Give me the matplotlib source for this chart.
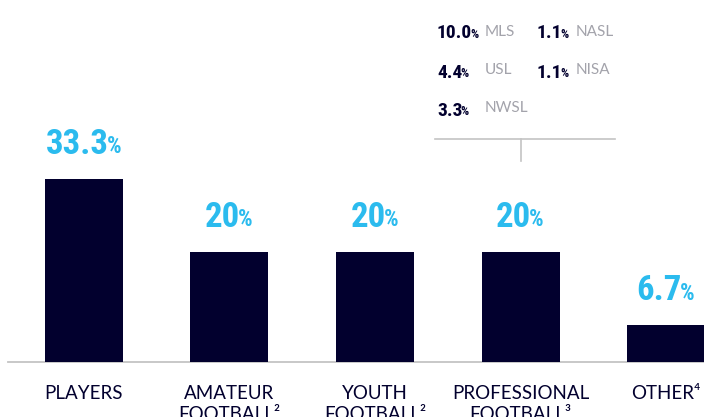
import matplotlib
matplotlib.use("Agg")
import matplotlib.pyplot as plt
from matplotlib import font_manager

# Share of respondents by sector
categories = ["PLAYERS", "AMATEUR\nFOOTBALL²", "YOUTH\nFOOTBALL²",
              "PROFESSIONAL\nFOOTBALL³", "OTHER⁴"]
shares = [33.3, 20, 20, 20, 6.7]

# Breakdown of the professional sector by league (column-major order)
leagues = ["MLS", "USL", "NWSL", "NASL", "NISA"]
league_shares = [10.0, 4.4, 3.3, 1.1, 1.1]

NAVY = "#02002e"
BLUE = "#2bbbee"
GREY_TXT = "#a3a3ab"
GREY_LINE = "#c4c4c4"

# pick the narrowest bold family available for the figures
installed = {f.name for f in font_manager.fontManager.ttflist}
num_family = "DejaVu Sans"
for cand in ["Roboto Condensed", "Liberation Sans Narrow", "DejaVu Sans"]:
    if cand in installed:
        num_family = cand
        break
label_family = ["Lato", "DejaVu Sans"]

W, H, DPI = 704, 417, 100
fig = plt.figure(figsize=(W / DPI, H / DPI), dpi=DPI)
ax = fig.add_axes([0, 55 / H, 1, 362 / H])
ax.set_xlim(-0.577, 4.261)
ax.set_ylim(0, 65.8)
ax.axis("off")

x = range(len(shares))
ax.bar(x, shares, width=0.536, color=NAVY, zorder=2)
ax.plot([-0.52, 4.3], [0, 0], color=GREY_LINE, lw=1.3, zorder=1,
        clip_on=False)


def pct_label(xy, text, size, color, coords="data", offset=(0, 0),
              ha="center"):
    px = size * DPI / 72
    shift = -0.2 * px if ha == "center" else 0
    num = ax.annotate(text, xy=xy, xycoords=coords,
                      xytext=(offset[0] + shift, offset[1]),
                      textcoords="offset pixels", ha=ha, va="bottom",
                      fontsize=size, color=color, fontweight="bold",
                      family=num_family, fontstretch="condensed",
                      annotation_clip=False)
    ax.annotate("%", xy=(1, 0), xycoords=num,
                xytext=(-2, 0.075 * px), textcoords="offset pixels",
                ha="left", va="bottom", fontsize=size * 0.66, color=color,
                fontweight="bold", family=num_family,
                fontstretch="condensed", annotation_clip=False)
    return num


for xi, v in zip(x, shares):
    pct_label((xi, v), f"{v:g}", 25, BLUE, offset=(0, 18))

for xi, lab in zip(x, categories):
    ax.annotate(lab, xy=(xi, 0), xytext=(0, -23),
                textcoords="offset pixels", ha="center", va="top",
                fontsize=13.5, color=NAVY, family=label_family,
                linespacing=1.3, annotation_clip=False)

# league callout above the professional bar
col_num_x = [437, 537]
col_name_x = [485, 576]
row_y = [30.5, 69.5, 107.5]
for k, (name, v) in enumerate(zip(leagues, league_shares)):
    col, row = divmod(k, 3)
    pct_label((col_num_x[col] / W, 1 - (row_y[row] + 12) / H), f"{v:.1f}",
              14, NAVY, coords="figure fraction", ha="left")
    fig.text(col_name_x[col] / W, 1 - (row_y[row] + 1) / H, name,
             ha="left", va="center", fontsize=11, color=GREY_TXT,
             family=label_family)

ax.plot([3 - 0.59, 3 + 0.646], [40.5, 40.5], color=GREY_LINE, lw=1.2)
ax.plot([3, 3], [40.5, 36.5], color=GREY_LINE, lw=1.2)

fig.savefig("out.png", dpi=DPI)
